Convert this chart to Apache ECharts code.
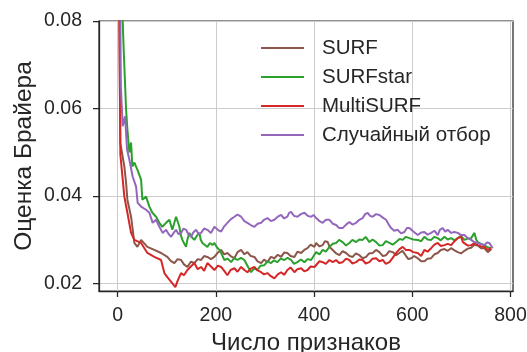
<!DOCTYPE html>
<html>
<head>
<meta charset="utf-8">
<script src="https://cdn.jsdelivr.net/npm/echarts@6/dist/echarts.min.js"></script>
<style>html,body{margin:0;padding:0;background:#fff}#c{width:527px;height:352px}</style>
</head>
<body>
<div id="c"></div>
<script>
const seriesNames = ['SURF', 'SURFstar', 'MultiSURF', 'Случайный отбор'];
const xTicks = [0, 200, 400, 600, 800];
const yTicks = [0.02, 0.04, 0.06, 0.08];

const surfX = [1, 3.5, 5.5, 13.6, 17.1, 19.8, 27.3, 34, 40.1, 47.7, 60.5, 74.7, 88.4,
  101.2, 108, 115.5, 122, 129.1, 135, 142, 149, 156.2, 163, 169.9, 176, 182.7, 190, 196.9, 204, 210.6, 217, 223.4, 230, 237.7, 244, 251.3, 258, 264.2, 271, 278.4, 285, 292.1, 298, 304.9, 312, 319.1, 326, 332.8, 339, 345.6, 352, 359.9, 366, 373.5, 380, 386.6, 393, 400.6, 404.1, 411, 417.5, 422, 427.7, 432, 437.9, 445, 451.5, 458, 465.1, 472, 478.6, 485, 492.2, 499, 505.9, 512, 519.3, 526, 533, 540, 546.6, 553, 560.1, 567, 573.7, 580, 587.4, 592, 597.6, 604, 611, 618, 624.6, 631, 638.3, 645, 651.7, 658, 665.4, 672, 679, 686, 692.5, 699, 706.1, 713, 719.8, 726, 733.2, 740, 746.8, 753.6, 761.1];
const surfY = [0.10, 0.080, 0.052, 0.0467, 0.0430, 0.0391, 0.0352, 0.0292, 0.0283, 0.0299, 0.0283, 0.0276, 0.0269,
  0.0260, 0.0251, 0.0246, 0.0255, 0.0253, 0.0243, 0.0237, 0.0249, 0.0246, 0.0255, 0.0253, 0.0262, 0.0260, 0.0255, 0.0260, 0.0270, 0.0276, 0.0266, 0.0269, 0.0262, 0.0257, 0.0271, 0.0276, 0.0266, 0.0271, 0.0262, 0.0260, 0.0250, 0.0246, 0.0254, 0.0248, 0.0260, 0.0257, 0.0265, 0.0260, 0.0270, 0.0269, 0.0262, 0.0260, 0.0272, 0.0269, 0.0276, 0.0280, 0.0288, 0.0283, 0.0292, 0.0284, 0.0287, 0.0296, 0.0294, 0.0282, 0.0276, 0.0268, 0.0264, 0.0273, 0.0269, 0.0262, 0.0260, 0.0268, 0.0264, 0.0257, 0.0260, 0.0268, 0.0269, 0.0276, 0.0271, 0.0262, 0.0264, 0.0273, 0.0271, 0.0264, 0.0269, 0.0274, 0.0262, 0.0255, 0.0257, 0.0262, 0.0257, 0.0250, 0.0250, 0.0256, 0.0257, 0.0266, 0.0269, 0.0276, 0.0278, 0.0274, 0.0280, 0.0275, 0.0271, 0.0268, 0.0274, 0.0279, 0.0281, 0.0288, 0.0286, 0.0280, 0.0280, 0.0271, 0.0278];

const starX = [1, 10.2, 12.2, 17.1, 19.8, 23.8, 27.3, 29.9, 34, 40.1, 47.7, 50.3, 57.8, 64.6, 70.7, 78.2, 84.9, 91, 98.6, 105.3, 111.4, 118.9,
  125.7, 128.5, 131.8, 135, 139.3, 142, 146, 151, 156.2, 161, 166.4, 169, 172.5, 177, 182.7, 188, 192.9, 196.9, 202, 207.1, 212, 217.3, 224, 231, 237, 243.8, 251, 258, 265, 271.7, 278, 284.5, 291, 298.8, 305, 312.4, 318, 325.3, 332, 339.5, 346, 353.2, 359, 366, 373, 380.2, 387, 393.9, 399, 404.1, 411, 417.5, 424, 431.2, 438, 444.8, 451, 458.2, 465, 471.8, 478, 485.5, 492, 498.9, 505, 512.6, 519, 526.3, 533, 539.7, 546, 553.4, 560, 567, 574, 580.4, 587, 594.1, 602, 611, 618, 624.6, 631, 638.3, 645, 651.7, 658, 665.4, 672, 679, 686, 692.5, 699, 706.1, 713, 719.8, 726.5, 730, 733.2, 740, 746.8, 753, 760.5];
const starY = [0.12, 0.0802, 0.0736, 0.0598, 0.0552, 0.0499, 0.0522, 0.0467, 0.0476, 0.0460, 0.0437, 0.0391, 0.0398, 0.0375, 0.0361, 0.0352, 0.0338, 0.0329, 0.0338, 0.0345, 0.0322, 0.0352,
  0.0329, 0.0310, 0.0299, 0.0292, 0.0283, 0.0300, 0.0315, 0.0305, 0.0299, 0.0308, 0.0315, 0.0300, 0.0292, 0.0288, 0.0283, 0.0292, 0.0287, 0.0292, 0.0282, 0.0276, 0.0266, 0.0253, 0.0256, 0.0248, 0.0257, 0.0253, 0.0258, 0.0253, 0.0238, 0.0225, 0.0234, 0.0230, 0.0240, 0.0241, 0.0250, 0.0246, 0.0252, 0.0248, 0.0256, 0.0253, 0.0258, 0.0253, 0.0244, 0.0248, 0.0254, 0.0248, 0.0255, 0.0253, 0.0262, 0.0271, 0.0266, 0.0276, 0.0272, 0.0283, 0.0290, 0.0292, 0.0299, 0.0294, 0.0286, 0.0292, 0.0299, 0.0294, 0.0300, 0.0299, 0.0306, 0.0294, 0.0300, 0.0294, 0.0286, 0.0287, 0.0296, 0.0292, 0.0288, 0.0294, 0.0301, 0.0299, 0.0306, 0.0303, 0.0300, 0.0299, 0.0296, 0.0306, 0.0300, 0.0299, 0.0306, 0.0303, 0.0298, 0.0306, 0.0300, 0.0303, 0.0298, 0.0303, 0.0308, 0.0299, 0.0302, 0.0303, 0.0315, 0.0300, 0.0294, 0.0290, 0.0287, 0.0282, 0.0280];

const multiX = [1, 3.5, 5.5, 13.6, 19.8, 27.3, 34, 47.7, 60.5, 74.7, 88.4, 95.1, 101.2,
  117.5, 122, 129.1, 135, 142, 149, 156.2, 163, 169.9, 176, 182.7, 190, 196.9, 204, 210.6, 217, 223.4, 230, 237.7, 244, 251.3, 258, 264.2, 271, 278.4, 285, 292.1, 298, 304.9, 312, 319.1, 326, 332.8, 339, 345.6, 352, 359.9, 366, 373.5, 380, 386.6, 393, 400.6, 404.1, 411, 417.5, 424, 431.2, 438, 444.8, 451, 458.2, 465, 471.8, 478, 485.5, 492, 498.9, 505, 512.6, 519, 526.3, 533, 539.7, 546, 553.4, 560, 567, 574, 580.4, 587, 594.1, 602, 611, 618, 624.6, 631, 638.3, 645, 651.7, 658, 665.4, 672, 679, 686, 692.5, 699.4, 703, 706.1, 713, 719.8, 726, 733.2, 740, 746.8, 753.6, 760.5];
const multiY = [0.10, 0.080, 0.0494, 0.0398, 0.0361, 0.0315, 0.0299, 0.0292, 0.0269, 0.0260, 0.0253, 0.0223, 0.0214,
  0.0191, 0.0205, 0.0223, 0.0218, 0.0230, 0.0238, 0.0246, 0.0232, 0.0237, 0.0228, 0.0246, 0.0238, 0.0230, 0.0240, 0.0237, 0.0228, 0.0218, 0.0230, 0.0234, 0.0226, 0.0237, 0.0230, 0.0225, 0.0233, 0.0237, 0.0229, 0.0225, 0.0220, 0.0223, 0.0216, 0.0211, 0.0220, 0.0225, 0.0219, 0.0230, 0.0236, 0.0225, 0.0232, 0.0234, 0.0227, 0.0230, 0.0238, 0.0237, 0.0241, 0.0250, 0.0248, 0.0244, 0.0253, 0.0248, 0.0253, 0.0246, 0.0248, 0.0256, 0.0253, 0.0245, 0.0248, 0.0254, 0.0253, 0.0245, 0.0248, 0.0256, 0.0257, 0.0250, 0.0253, 0.0244, 0.0248, 0.0258, 0.0269, 0.0278, 0.0283, 0.0276, 0.0276, 0.0271, 0.0269, 0.0262, 0.0276, 0.0272, 0.0280, 0.0288, 0.0292, 0.0285, 0.0287, 0.0290, 0.0287, 0.0296, 0.0303, 0.0306, 0.0294, 0.0292, 0.0286, 0.0287, 0.0291, 0.0287, 0.0284, 0.0283, 0.0276, 0.0280];

const randX = [1, 5.5, 6.5, 10.2, 15.1, 19.1, 23.8, 30.5, 37.5, 40.7, 47.7, 57.8, 64.6, 71.3, 78.2, 84.9, 91.6,
  98.6, 104, 108.8, 114, 118.9, 124, 129.1, 134, 139.3, 144, 149.5, 154, 159.7, 165, 169.9, 176, 182.7, 190, 196.9, 204, 210.6, 217, 223.4, 230, 237.7, 244, 251.3, 258, 264.2, 271, 278.4, 285, 292.1, 298, 304.9, 312, 319.1, 326, 332.8, 339, 345.6, 349, 353.2, 359, 366, 373, 380.2, 387, 393.9, 399, 404.1, 411, 417.5, 424, 431.2, 438, 444.8, 451, 458.2, 465, 471.8, 478, 485.5, 492, 498.9, 504, 509.1, 514, 519.3, 526, 533, 540, 546.6, 552, 556.8, 563, 570.3, 577, 583.9, 589, 594.1, 602, 611, 618, 624.6, 631, 638.3, 645, 651.7, 656, 661.9, 667, 672.1, 679, 685.7, 692.5, 699, 706.1, 713, 719.8, 726, 733.2, 740, 746.8, 752, 757, 763.7];
const randY = [0.12, 0.080, 0.0651, 0.0559, 0.0582, 0.0506, 0.0483, 0.0444, 0.0421, 0.0384, 0.0375, 0.0368, 0.0361, 0.0338, 0.0345, 0.0329, 0.0315,
  0.0322, 0.0312, 0.0306, 0.0315, 0.0322, 0.0312, 0.0315, 0.0325, 0.0322, 0.0312, 0.0306, 0.0316, 0.0322, 0.0312, 0.0315, 0.0325, 0.0322, 0.0315, 0.0329, 0.0322, 0.0318, 0.0330, 0.0338, 0.0346, 0.0352, 0.0357, 0.0352, 0.0342, 0.0338, 0.0333, 0.0329, 0.0336, 0.0338, 0.0345, 0.0349, 0.0342, 0.0345, 0.0352, 0.0356, 0.0348, 0.0352, 0.0361, 0.0363, 0.0354, 0.0352, 0.0358, 0.0361, 0.0354, 0.0352, 0.0356, 0.0349, 0.0342, 0.0338, 0.0345, 0.0345, 0.0336, 0.0333, 0.0326, 0.0326, 0.0334, 0.0340, 0.0334, 0.0338, 0.0345, 0.0349, 0.0358, 0.0361, 0.0354, 0.0352, 0.0358, 0.0356, 0.0350, 0.0345, 0.0334, 0.0326, 0.0320, 0.0322, 0.0314, 0.0317, 0.0326, 0.0326, 0.0318, 0.0310, 0.0316, 0.0317, 0.0311, 0.0315, 0.0320, 0.0310, 0.0322, 0.0326, 0.0318, 0.0322, 0.0315, 0.0317, 0.0315, 0.0310, 0.0310, 0.0303, 0.0299, 0.0294, 0.0292, 0.0289, 0.0287, 0.0293, 0.0292, 0.0280];

const colors = ['#8c564b', '#2ca02c', '#d62728', '#9467bd'];
const xs = [surfX, starX, multiX, randX];
const ys = [surfY, starY, multiY, randY];
const FONT = 'Arial, "Liberation Sans", sans-serif';
const INK = '#262626';

const chart = echarts.init(document.getElementById('c'), null, {renderer: 'canvas'});
chart.setOption({
  animation: false,
  backgroundColor: '#ffffff',
  grid: {left: 99, right: 14, top: 21, bottom: 61, outerBoundsMode: 'none', containLabel: false,
    show: true, borderColor: INK, borderWidth: 1.25, backgroundColor: 'transparent'},
  legend: {
    orient: 'vertical', left: 261, top: 37, padding: 0,
    icon: 'rect', itemWidth: 43, itemHeight: 2, itemGap: 7,
    data: seriesNames,
    textStyle: {fontFamily: FONT, fontSize: 20.5, color: INK, lineHeight: 22, padding: [0, 0, 0, 13]}
  },
  xAxis: {
    type: 'value', min: -38, max: 805,
    axisLine: {show: true, onZero: false, lineStyle: {color: INK, width: 1.25}},
    axisTick: {show: true, length: 6, customValues: xTicks, lineStyle: {color: INK, width: 1.25}},
    axisLabel: {customValues: xTicks, margin: 15, fontFamily: FONT, fontSize: 19.5, color: INK},
    splitLine: {show: true, lineStyle: {color: '#cccccc', width: 1}},
    name: 'Число признаков', nameLocation: 'middle', nameGap: 40, nameMoveOverlap: false,
    nameTextStyle: {fontFamily: FONT, fontSize: 24, color: INK}
  },
  yAxis: {
    type: 'value', min: 0.0182, max: 0.08,
    axisLine: {show: true, onZero: false, lineStyle: {color: INK, width: 1.25}},
    axisTick: {show: true, length: 6, customValues: yTicks, lineStyle: {color: INK, width: 1.25}},
    axisLabel: {customValues: yTicks, margin: 17, fontFamily: FONT, fontSize: 19.5, color: INK, formatter: v => v.toFixed(2)},
    splitLine: {show: true, lineStyle: {color: '#cccccc', width: 1}},
    name: 'Оценка Брайера', nameLocation: 'middle', nameGap: 62, nameMoveOverlap: false,
    nameTextStyle: {fontFamily: FONT, fontSize: 24.5, color: INK}
  },
  series: seriesNames.map((n, i) => ({
    name: n, type: 'line', showSymbol: false, clip: true,
    color: colors[i],
    lineStyle: {width: 2, color: colors[i]},
    data: xs[i].map((x, k) => [x, ys[i][k]])
  }))
});
</script>
</body>
</html>
